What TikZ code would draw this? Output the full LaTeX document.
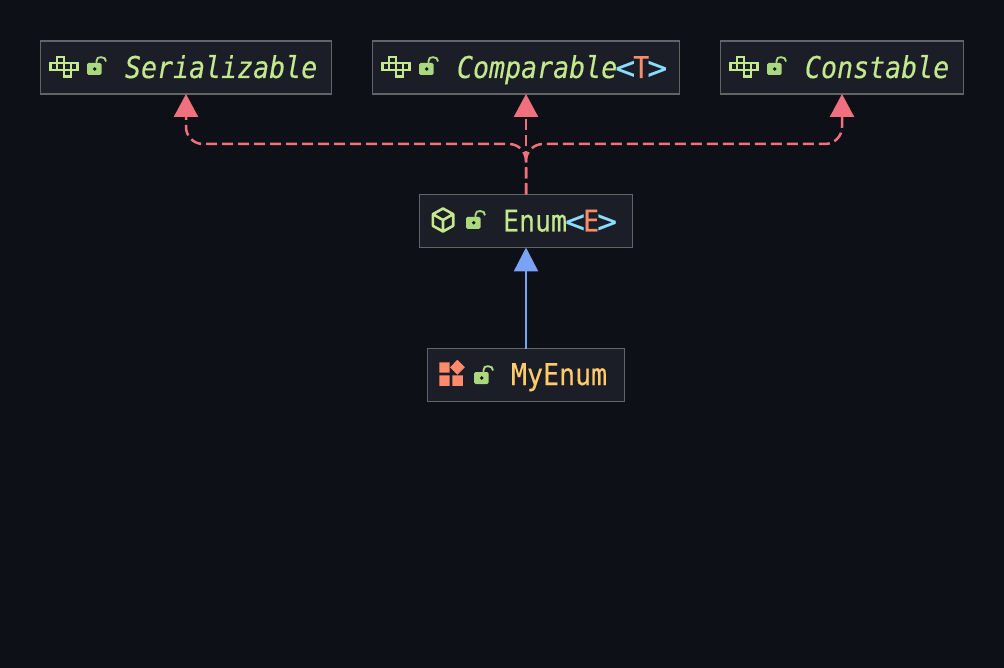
\documentclass[tikz,border=0pt]{standalone}
\usepackage{fontspec}
\usepackage{graphicx}
\setmonofont{DejaVu Sans Mono}[ItalicFont=* Oblique,FakeStretch=0.887,FakeBold=0.3]
\usetikzlibrary{arrows.meta}
\definecolor{bgc}{HTML}{0D1017}
\definecolor{boxc}{HTML}{1B1E26}
\definecolor{edgec}{HTML}{636468}
\definecolor{greenc}{HTML}{C3E88D}
\definecolor{lockc}{HTML}{A9D87F}
\definecolor{redc}{HTML}{F0707E}
\definecolor{bluec}{HTML}{7AA2F7}
\definecolor{cyanc}{HTML}{89DDFF}
\definecolor{coralc}{HTML}{F78C6C}
\definecolor{iconc}{HTML}{FF8A6C}
\definecolor{yellowc}{HTML}{FFCB6B}
\newcommand{\chev}[1]{\textup{\textcolor{cyanc}{\raisebox{-1pt}{\makebox[16pt]{\scalebox{1.25}[1.08]{#1}}}}}}
\newcommand{\targ}[1]{\textup{\textcolor{coralc}{#1}}}
\tikzset{
  classbox/.style={draw=edgec,fill=boxc,line width=1.3pt,minimum height=53pt,inner sep=0pt,outer sep=0pt},
  classtext/.style={anchor=base west,inner sep=0pt,outer sep=0pt,font=\fontsize{30pt}{34pt}\selectfont\ttfamily},
  implements/.style={draw=redc,line width=2.5pt,dash pattern=on 11pt off 5pt,rounded corners=17pt,-{Triangle[width=24pt,length=23pt,fill=redc]}},
  extends/.style={draw=bluec,line width=2.5pt,-{Triangle[width=24pt,length=24pt,fill=bluec]}},
  ifaceicon/.pic={
    \draw[greenc,line width=2.2pt]
      (0,6.6)--(27,6.6)--(27,13.2)--(0,13.2)--cycle
      (6.75,6.6)--(6.75,13.2) (13.5,6.6)--(13.5,13.2) (20.25,6.6)--(20.25,13.2)
      (6.75,6.6)--(6.75,0)--(13.5,0)--(13.5,6.6)
      (13.5,13.2)--(13.5,19.8)--(20.25,19.8)--(20.25,13.2);
  },
  lockicon/.pic={
    \fill[lockc,rounded corners=1.5pt] (0,0) rectangle (14.5,12);
    \fill[bgc] (7.7,6) circle (1.9pt);
    \draw[lockc,line width=1.9pt] (9.5,0) -- (9.5,-2) .. controls (9.5,-5) and (11.5,-5.8) .. (14,-5.8) .. controls (17,-5.8) and (19,-4.5) .. (19,-1.5);
  },
  cubeicon/.pic={
    \draw[greenc,line width=2.6pt,line join=round]
      (0,-11.5) -- (10.2,-5.8) -- (10.2,5.8) -- (0,11.5) -- (-10.2,5.8) -- (-10.2,-5.8) -- cycle
      (-10.2,-5.8) -- (0,0) -- (10.2,-5.8) (0,0) -- (0,11.5);
  },
  enumicon/.pic={
    \fill[iconc] (0,0) rectangle (10.3,10.3)
      (0,13) rectangle (10.3,23.5)
      (13,13) rectangle (23.5,23.5)
      (18,-2.5) -- (25.5,5) -- (18,12.5) -- (10.8,5) -- cycle;
  },
}
\begin{document}
\begin{tikzpicture}[x=1pt,y=-1pt]
\useasboundingbox[fill=bgc] (0,0) rectangle (1004,668);

\node[classbox,minimum width=291pt] (ser) at (186,67.5) {};
\node[classbox,minimum width=307pt] (cmp) at (526,67.5) {};
\node[classbox,minimum width=243pt] (cst) at (842,67.5) {};
\node[classbox,minimum width=213pt] (enm) at (526,221) {};
\node[classbox,minimum width=197pt] (mye) at (526,375) {};
\coordinate (bus) at (526,144);

\draw[implements] (enm.north) -- (cmp.south);
\draw[implements] (enm.north) -- (bus) -- (ser.south |- bus) -- (ser.south);
\draw[implements] (enm.north) -- (bus) -- (cst.south |- bus) -- (cst.south);
\draw[extends] (mye.north) -- (enm.south);

\pic at (50.5,56.7) {ifaceicon};
\pic at (382.5,56.7) {ifaceicon};
\pic at (730.5,56.7) {ifaceicon};
\pic at (443,220) {cubeicon};
\pic at (439.3,362.3) {enumicon};
\pic at (87,63) {lockicon};
\pic at (419,63) {lockicon};
\pic at (767,63) {lockicon};
\pic at (466,216.8) {lockicon};
\pic at (474,372) {lockicon};

\node[classtext,text=greenc] (sert) at (125,78) {\itshape Serializable};
\node[classtext,text=greenc] (cmpt) at (457,78) {\itshape Comparable\chev{<}\targ{T}\chev{>}};
\node[classtext,text=greenc] (cstt) at (805,78) {\itshape Constable};
\node[classtext,text=greenc] (enmt) at (503,231.5) {Enum\chev{<}\targ{E}\chev{>}};
\node[classtext,text=yellowc] (myet) at (511,385) {MyEnum};
\end{tikzpicture}
\end{document}
